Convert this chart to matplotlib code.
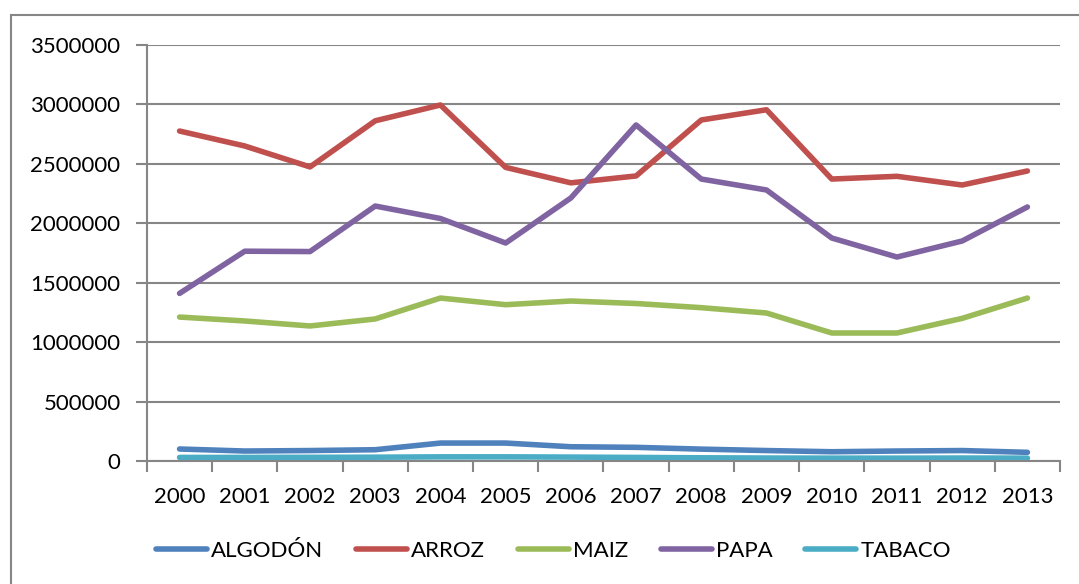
import matplotlib.pyplot as plt
from matplotlib.lines import Line2D
import numpy as np

plt.rcParams['font.family'] = ['Lato', 'DejaVu Sans']

years = ['2000', '2001', '2002', '2003', '2004', '2005', '2006',
         '2007', '2008', '2009', '2010', '2011', '2012', '2013']
algodon = [101000, 84000, 88000, 95000, 151000, 151000, 120000,
           115000, 100000, 88000, 78000, 84000, 88000, 73000]
arroz = [2776000, 2650000, 2474000, 2862000, 2995000, 2470000, 2340000,
         2398000, 2869000, 2955000, 2372000, 2395000, 2322000, 2440000]
maiz = [1211000, 1178000, 1136000, 1195000, 1371000, 1315000, 1346000,
        1325000, 1290000, 1245000, 1077000, 1077000, 1200000, 1371000]
papa = [1410000, 1765000, 1762000, 2145000, 2040000, 1834000, 2213000,
        2827000, 2372000, 2280000, 1876000, 1716000, 1851000, 2137000]
tabaco = [30000, 30000, 31000, 32000, 35000, 35000, 33000,
          30000, 27000, 25000, 24000, 24000, 25000, 24000]

series = [('ALGODÓN', algodon, '#4F81BD'),
          ('ARROZ', arroz, '#C0504D'),
          ('MAIZ', maiz, '#9BBB59'),
          ('PAPA', papa, '#8064A2'),
          ('TABACO', tabaco, '#4BACC6')]

fig = plt.figure(figsize=(10.79, 5.84), dpi=100)
ax = fig.add_axes([0.1362, 0.2106, 0.8462, 0.7124])

x = np.arange(len(years))
for name, vals, col in series:
    ax.plot(x, vals, color=col, lw=4, solid_capstyle='round',
            solid_joinstyle='round', label=name)

ax.set_xlim(-0.5, len(years) - 0.5)
ax.set_ylim(0, 3500000)
ax.set_yticks(np.arange(0, 3500001, 500000))
ax.set_yticklabels([str(v) for v in range(0, 3500001, 500000)])
ax.yaxis.grid(True, color='#868686', lw=1.5)
ax.set_axisbelow(True)

ax.set_xticks(x)
ax.set_xticklabels(years)
ax.set_xticks(np.arange(-0.5, len(years)), minor=True)
ax.tick_params(axis='x', which='major', length=0, labelsize=16, pad=19)
ax.tick_params(axis='x', which='minor', length=8, color='#868686', width=1.5)
ax.tick_params(axis='y', length=8, color='#868686', width=1.5,
               labelsize=16, pad=11)

for s in ['top', 'right']:
    ax.spines[s].set_visible(False)
for s in ['left', 'bottom']:
    ax.spines[s].set_color('#868686')
    ax.spines[s].set_linewidth(1.5)

handles = [Line2D([0], [0], color=c, lw=4, solid_capstyle='round')
           for _, _, c in series]
fig.legend(handles, [n for n, _, _ in series], loc='center',
           bbox_to_anchor=(0.513, 0.057), ncol=5, frameon=False,
           fontsize=16, handlelength=2.3, handletextpad=0.2,
           columnspacing=1.45)

border = plt.Rectangle((11 / 1079, -0.1), 1.2, (584 - 15) / 584 + 0.1,
                       transform=fig.transFigure, fill=False,
                       edgecolor='#868686', lw=1.5)
fig.patches.append(border)

fig.savefig('out.png', dpi=100)
